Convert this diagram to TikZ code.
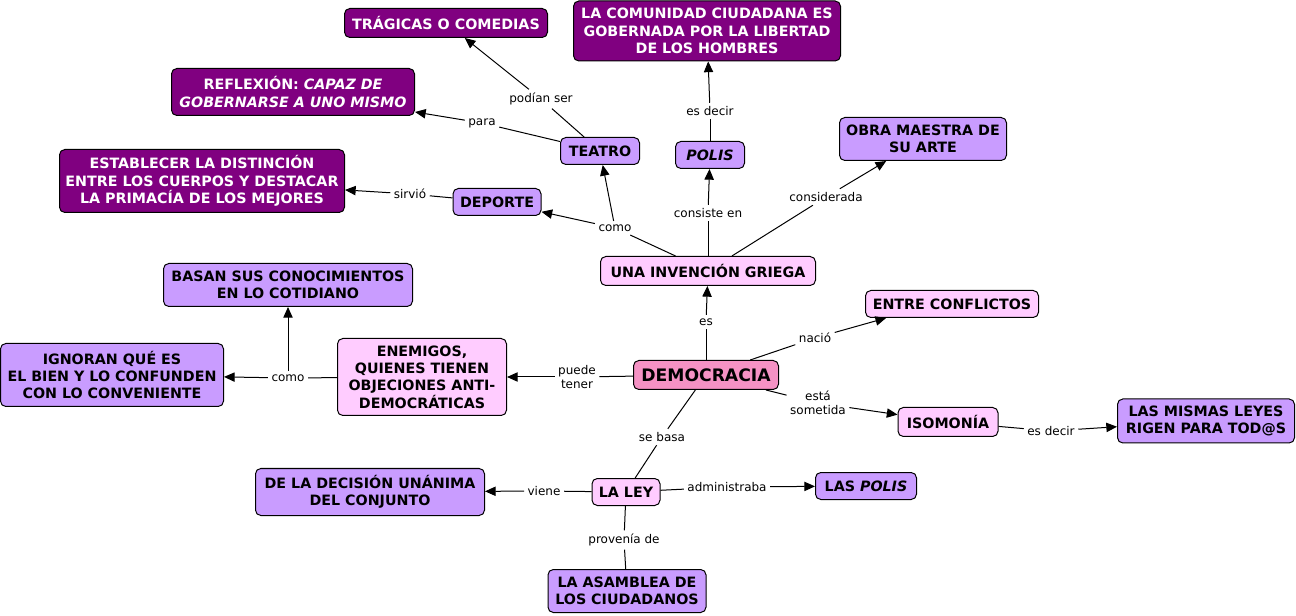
\documentclass[tikz,border=0pt]{standalone}
\usepackage{fontspec}
\setmainfont{DejaVu Sans}
\usetikzlibrary{arrows.meta,positioning}
\definecolor{cmDark}{HTML}{800080}
\definecolor{cmLilac}{HTML}{C99CFF}
\definecolor{cmPink}{HTML}{FFCCFF}
\definecolor{cmRose}{HTML}{F592C4}
\tikzset{
  >={Triangle[length=8pt,width=7pt]},
  concept/.style={draw=black, line width=0.75pt, rounded corners=4pt, align=center,
                  inner sep=2pt, font=\fontsize{10.7}{13}\selectfont\bfseries},
  darkbox/.style={concept, fill=cmDark, text=white},
  lilacbox/.style={concept, fill=cmLilac},
  pinkbox/.style={concept, fill=cmPink},
  rootbox/.style={concept, fill=cmRose, font=\fontsize{12.9}{15}\selectfont\bfseries},
  dim/.style 2 args={minimum width=#1*0.75pt, minimum height=#2*0.75pt},
  linklbl/.style={font=\fontsize{9}{10.6}\selectfont, align=center, inner sep=2.5pt},
  link/.style={line width=0.75pt, draw=black},
  linkto/.style={link, ->},
}

\begin{document}
\begin{tikzpicture}[x=0.75pt, y=-0.75pt]
  \useasboundingbox (0,0) rectangle (1296,616);

  % ── Concepts (pixel grid of the map, y downwards) ──
  \node[rootbox, dim={145}{29}]  (dem)      at (706,375) {DEMOCRACIA};
  \node[pinkbox, dim={215}{29}]  (inv)      at (708,271) {UNA INVENCIÓN GRIEGA};
  \node[pinkbox, dim={173}{27}]  (conflict) at (952,304) {ENTRE CONFLICTOS};
  \node[pinkbox, dim={169}{77}]  (enemy)    at (422,377) {ENEMIGOS,\\QUIENES TIENEN\\OBJECIONES ANTI-\\DEMOCRÁTICAS};
  \node[pinkbox, dim={100}{29}]  (isomon)   at (948,422) {ISOMONÍA};
  \node[pinkbox, dim={68}{27}]   (ley)      at (626,492) {LA LEY};

  \node[lilacbox, dim={79}{27}]  (teatro)   at (600,151) {TEATRO};
  \node[lilacbox, dim={69}{27}]  (polis)    at (710,155) {\textit{POLIS}};
  \node[lilacbox, dim={167}{43}] (obra)     at (923,139) {OBRA MAESTRA DE\\SU ARTE};
  \node[lilacbox, dim={88}{27}]  (deporte)  at (497,202) {DEPORTE};
  \node[lilacbox, dim={249}{43}] (basan)    at (288,285) {BASAN SUS CONOCIMIENTOS\\EN LO COTIDIANO};
  \node[lilacbox, dim={223}{63}] (ignoran)  at (112,375) {IGNORAN QUÉ ES\\EL BIEN Y LO CONFUNDEN\\CON LO CONVENIENTE};
  \node[lilacbox, dim={177}{44}] (leyes)    at (1206,421) {LAS MISMAS LEYES\\RIGEN PARA TOD@S};
  \node[lilacbox, dim={229}{47}] (decision) at (370,492) {DE LA DECISIÓN UNÁNIMA\\DEL CONJUNTO};
  \node[lilacbox, dim={101}{27}] (laspolis) at (866,486) {LAS \textit{POLIS}};
  \node[lilacbox, dim={158}{43}] (asamblea) at (627,591) {LA ASAMBLEA DE\\LOS CIUDADANOS};

  \node[darkbox, dim={203}{29}]  (tragicas) at (446,23)  {TRÁGICAS O COMEDIAS};
  \node[darkbox, dim={267}{60}]  (comunid)  at (707,31)  {LA COMUNIDAD CIUDADANA ES\\GOBERNADA POR LA LIBERTAD\\DE LOS HOMBRES};
  \node[darkbox, dim={243}{47}]  (reflex)   at (293,92)  {REFLEXIÓN: \textit{CAPAZ DE}\\\textit{GOBERNARSE A UNO MISMO}};
  \node[darkbox, dim={285}{63}]  (establec) at (202,181) {ESTABLECER LA DISTINCIÓN\\ENTRE LOS CUERPOS Y DESTACAR\\LA PRIMACÍA DE LOS MEJORES};

  % ── Linking phrases ──
  \node[linklbl] (lbPodian)   at (541,99)  {podían ser};
  \node[linklbl] (lbPara)     at (482,123) {para};
  \node[linklbl] (lbEsDecirA) at (710,111) {es decir};
  \node[linklbl] (lbSirvio)   at (410,194) {sirvió};
  \node[linklbl] (lbComoA)    at (615,228) {como};
  \node[linklbl] (lbConsiste) at (708,213) {consiste en};
  \node[linklbl] (lbConsid)   at (826,197) {considerada};
  \node[linklbl] (lbEs)       at (706,322) {es};
  \node[linklbl] (lbNacio)    at (815,338) {nació};
  \node[linklbl] (lbComoB)    at (288,378) {como};
  \node[linklbl] (lbPuede)    at (577,377) {puede\\tener};
  \node[linklbl] (lbSometida) at (818,403) {está\\sometida};
  \node[linklbl] (lbEsDecirB) at (1051,431) {es decir};
  \node[linklbl] (lbSeBasa)   at (662,437) {se basa};
  \node[linklbl] (lbViene)    at (544,491) {viene};
  \node[linklbl] (lbAdmin)    at (727,487) {administraba};
  \node[linklbl] (lbProvenia) at (624,540) {provenía de};

  % ── Connections ──
  \draw[link] (dem) -- (lbEs);        \draw[linkto] (lbEs) -- (inv);
  \draw[link] (dem) -- (lbNacio);     \draw[linkto] (lbNacio) -- (conflict.192);
  \draw[link] (dem) -- (lbPuede);     \draw[linkto] (lbPuede) -- (enemy);
  \draw[link] (dem) -- (lbSometida);  \draw[linkto] (lbSometida) -- (isomon);
  \draw[link] (dem) -- (lbSeBasa);    \draw[link] (lbSeBasa) -- (ley);

  \draw[link] (inv) -- (lbComoA);
  \draw[linkto] (lbComoA) -- (deporte);
  \draw[linkto] (lbComoA) -- (teatro);
  \draw[link] (inv) -- (lbConsiste);  \draw[linkto] (lbConsiste) -- (polis);
  \draw[link] (inv) -- (lbConsid);    \draw[linkto] (lbConsid) -- (obra);

  \draw[link] (teatro) -- (lbPodian); \draw[linkto] (lbPodian) -- (tragicas);
  \draw[link] (teatro) -- (lbPara);   \draw[linkto] (lbPara) -- (reflex);
  \draw[link] (polis) -- (lbEsDecirA); \draw[linkto] (lbEsDecirA) -- (comunid);
  \draw[link] (deporte) -- (lbSirvio); \draw[linkto] (lbSirvio) -- (establec);

  \draw[link] (enemy) -- (lbComoB);
  \draw[linkto] (lbComoB) -- (ignoran);
  \draw[linkto] (lbComoB) -- (basan);

  \draw[link] (isomon) -- (lbEsDecirB); \draw[linkto] (lbEsDecirB) -- (leyes);

  \draw[link] (ley) -- (lbViene);     \draw[linkto] (lbViene) -- (decision);
  \draw[link] (ley) -- (lbAdmin);     \draw[linkto] (lbAdmin) -- (laspolis);
  \draw[link] (ley) -- (lbProvenia);  \draw[link] (lbProvenia) -- (asamblea);
\end{tikzpicture}
\end{document}
